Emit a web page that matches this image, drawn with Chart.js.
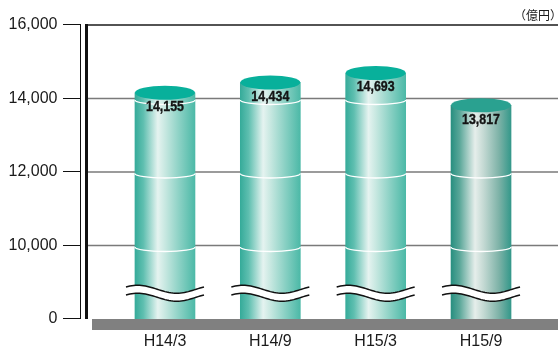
<!DOCTYPE html>
<html>
<head>
<meta charset="utf-8">
<script src="https://cdn.jsdelivr.net/npm/chart.js@4/dist/chart.umd.min.js"></script>
<style>
  html, body { margin: 0; padding: 0; background: #fff; }
  #wrap { width: 558px; height: 350px; position: relative; }
</style>
</head>
<body>
<div id="wrap"><canvas id="c" width="558" height="350"></canvas></div>
<script>
// Balance at each half-year end (unit: 100 million yen)
const categories = ['H14/3', 'H14/9', 'H15/3', 'H15/9'];
const balances = [14155, 14434, 14693, 13817];

// Y axis is broken: the lowest tick stands for the origin
const yTickValues = [8000, 10000, 12000, 14000, 16000];
const yTickLabels = ['0', '10,000', '12,000', '14,000', '16,000'];
const unitLabel = '（億円）';

const AXIS_BASE = 8000;      // value placed at the "0" tick
const BREAK_VALUE = 8700;    // where the wavy break crosses the columns
const BAR_WIDTH = 60;
const CAP_RY = 7;
const RING_RY = 4.5;

// Cylinder shading: light streak left of centre
const TEAL = { cap: '#08b09b', stops: [[0, '#36ab9a'], [0.14, '#5fbfb0'], [0.38, '#e5f3f0'], [0.5, '#c8e8e1'], [0.76, '#86cfc2'], [1, '#4cb9a7']] };
const SLATE = { cap: '#2aa190', stops: [[0, '#288f80'], [0.14, '#58a698'], [0.4, '#e6eeeb'], [0.55, '#c2d8d2'], [0.8, '#7db2a7'], [1, '#34988a']] };
const PALETTE = [TEAL, TEAL, TEAL, SLATE];

Chart.defaults.font.family = '"Liberation Sans", Arial, Helvetica, sans-serif';

function cylinderGradient(ctx, x0, x1, pal) {
  const g = ctx.createLinearGradient(x0, 0, x1, 0);
  pal.stops.forEach(([o, c]) => g.addColorStop(o, c));
  return g;
}

const bodyFill = (c) => {
  const chart = c.chart;
  if (c.type !== 'data' || !chart.chartArea || !chart.scales.x) return PALETTE[0].cap;
  const x = chart.scales.x.getPixelForValue(c.dataIndex);
  return cylinderGradient(chart.ctx, x - BAR_WIDTH / 2, x + BAR_WIDTH / 2, PALETTE[c.dataIndex]);
};

function wavePoints(cx, y0, halfSpan, amp) {
  const pts = [];
  for (let k = 0; k <= 40; k++) {
    const t = k / 40;
    pts.push([cx - halfSpan + 2 * halfSpan * t, y0 - amp * Math.sin(2 * Math.PI * (t + 0.1))]);
  }
  return pts;
}

const cylinderPlugin = {
  id: 'cylinders',
  beforeDatasetsDraw(chart) {
    const { ctx, chartArea: { top, bottom }, scales: { y } } = chart;
    const W = chart.width;
    ctx.save();
    // grey floor under the columns
    ctx.fillStyle = '#808080';
    ctx.fillRect(92, bottom, W - 92, 11);

    // horizontal rules
    yTickValues.forEach(v => {
      if (v === AXIS_BASE) return;
      const py = y.getPixelForValue(v);
      ctx.strokeStyle = v === y.max ? '#1a1a1a' : '#7a7a7a';
      ctx.lineWidth = v === y.max ? 1.6 : 1.5;
      ctx.beginPath(); ctx.moveTo(88, py); ctx.lineTo(W, py); ctx.stroke();
    });

    // double vertical axis with tick marks
    ctx.strokeStyle = '#111';
    ctx.lineWidth = 1;
    ctx.beginPath(); ctx.moveTo(80.5, top); ctx.lineTo(80.5, bottom); ctx.stroke();
    yTickValues.forEach(v => {
      const py = Math.round(y.getPixelForValue(v)) - 0.5;
      ctx.beginPath(); ctx.moveTo(63, py); ctx.lineTo(81, py); ctx.stroke();
    });
    ctx.lineWidth = 3;
    ctx.beginPath(); ctx.moveTo(86.5, top - 1); ctx.lineTo(86.5, bottom); ctx.stroke();

    // unit
    ctx.fillStyle = '#1a1a1a';
    ctx.font = '12px "Noto Sans CJK JP", sans-serif';
    ctx.textAlign = 'right';
    ctx.textBaseline = 'middle';
    ctx.fillText(unitLabel, 562, 15);
    ctx.restore();
  },
  afterDatasetsDraw(chart) {
    const { ctx, scales: { y } } = chart;
    const values = chart.data.datasets[0].data;
    const meta = chart.getDatasetMeta(0);
    ctx.save();
    meta.data.forEach((bar, i) => {
      const pal = PALETTE[i];
      const cx = bar.x, rx = bar.width / 2, topY = bar.y, baseY = bar.base;
      const grad = cylinderGradient(ctx, cx - rx, cx + rx, pal);

      // rounded bottom of the column
      ctx.fillStyle = grad;
      ctx.beginPath(); ctx.ellipse(cx, baseY, rx, 6, 0, 0, Math.PI); ctx.fill();

      // white rings where the rules wrap round the column
      ctx.strokeStyle = '#ffffff';
      ctx.lineWidth = 1.3;
      yTickValues.forEach(v => {
        if (v === AXIS_BASE || v >= values[i]) return;
        const gy = y.getPixelForValue(v) + 1.5;
        ctx.beginPath(); ctx.ellipse(cx, gy, rx, RING_RY, 0, 0, Math.PI); ctx.stroke();
      });

      // wavy axis break
      const by = y.getPixelForValue(BREAK_VALUE);
      const half = bar.width * 0.65;
      const upper = wavePoints(cx, by - 4, half, 4);
      const lower = wavePoints(cx, by + 4, half, 4);
      ctx.fillStyle = '#ffffff';
      ctx.beginPath();
      upper.forEach(([px, py], k) => k ? ctx.lineTo(px, py) : ctx.moveTo(px, py));
      for (let k = lower.length - 1; k >= 0; k--) ctx.lineTo(lower[k][0], lower[k][1]);
      ctx.closePath(); ctx.fill();
      ctx.strokeStyle = '#111';
      ctx.lineWidth = 1.5;
      [upper, lower].forEach(line => {
        ctx.beginPath();
        line.forEach(([px, py], k) => k ? ctx.lineTo(px, py) : ctx.moveTo(px, py));
        ctx.stroke();
      });

      // top cap
      ctx.fillStyle = pal.cap;
      ctx.beginPath(); ctx.ellipse(cx, topY, rx, CAP_RY, 0, 0, 2 * Math.PI); ctx.fill();

      // value label, horizontally condensed
      ctx.save();
      ctx.translate(cx, topY + 14);
      ctx.scale(0.8, 1);
      ctx.fillStyle = '#141414';
      ctx.strokeStyle = '#141414';
      ctx.lineWidth = 0.4;
      ctx.font = 'bold 15.5px "Liberation Sans", Arial, sans-serif';
      ctx.textAlign = 'center';
      ctx.textBaseline = 'middle';
      const txt = values[i].toLocaleString('en-US');
      ctx.fillText(txt, 0, 0);
      ctx.strokeText(txt, 0, 0);
      ctx.restore();
    });
    ctx.restore();
  }
};

new Chart(document.getElementById('c'), {
  type: 'bar',
  data: {
    labels: categories,
    datasets: [{
      data: balances,
      backgroundColor: bodyFill,
      borderWidth: 0,
      barThickness: BAR_WIDTH
    }]
  },
  options: {
    responsive: false,
    animation: false,
    devicePixelRatio: 1,
    layout: { padding: { top: 25, right: 24.3, left: 0, bottom: 0 } },
    plugins: { legend: { display: false }, tooltip: { enabled: false } },
    scales: {
      x: {
        grid: { display: false, drawTicks: false },
        border: { display: false },
        ticks: { padding: 13, color: '#1a1a1a', font: { size: 16 }, maxRotation: 0 },
        afterFit: s => { s.height = 31; s.paddingLeft = 0; s.paddingRight = 0; }
      },
      y: {
        min: AXIS_BASE,
        max: 16000,
        grid: { display: false, drawTicks: false },
        border: { display: false },
        afterBuildTicks: s => { s.ticks = yTickValues.map(v => ({ value: v })); },
        ticks: {
          padding: 54.8,
          color: '#1a1a1a',
          font: { size: 16 },
          callback: v => yTickLabels[yTickValues.indexOf(v)]
        },
        afterFit: s => { s.width = 112.3; s.paddingTop = 0; s.paddingBottom = 0; }
      }
    }
  },
  plugins: [cylinderPlugin]
});
</script>
</body>
</html>
